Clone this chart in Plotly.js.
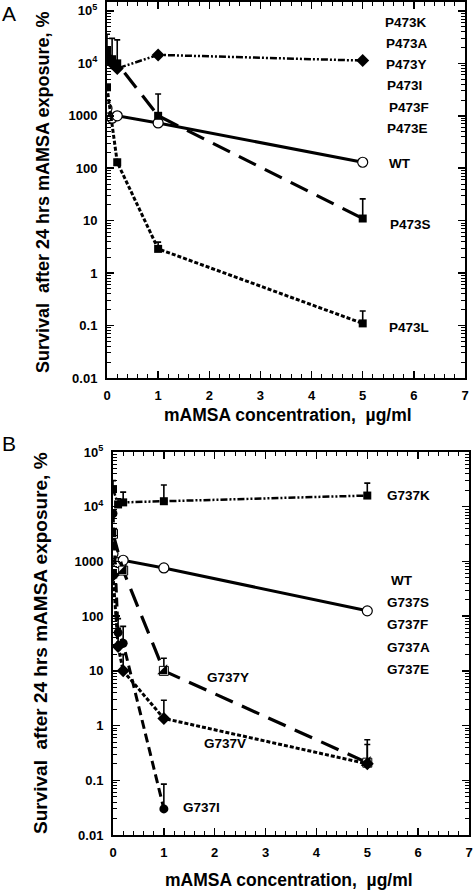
<!DOCTYPE html>
<html>
<head>
<meta charset="utf-8">
<script src="https://cdn.plot.ly/plotly-3.0.1.min.js"></script>
<style>html,body{margin:0;padding:0;background:#fff}#chart{width:475px;height:890px}</style>
</head>
<body>
<div id="chart"></div>
<script>
// ---------- DATA: panel A (P473 mutants) ----------
const xA_K = [0, 0.1, 0.2, 1, 5];
const yA_K = [13000, 10000, 8000, 14500, 11300];

const xA_S = [0, 0.1, 0.2, 1, 5];
const yA_S = [18000, 12000, 10000, 1000, 11];
const yA_S_hi = [36000, 30000, 28000, 2600, 26];

const xA_L = [0, 0.2, 1, 5];
const yA_L = [3500, 130, 2.9, 0.11];
const yA_L_hi = [3500, 130, 3.9, 0.19];

const xA_WT = [0, 0.1, 0.2, 1, 5];
const yA_WT = [1400, 900, 1000, 730, 130];

const labelsA = ['P473K', 'P473A', 'P473Y', 'P473I', 'P473F', 'P473E', 'WT', 'P473S', 'P473L'];

// ---------- DATA: panel B (G737 mutants) ----------
const xB_K = [0, 0.1, 0.2, 1, 5];
const yB_K = [21000, 11000, 12000, 12600, 16000];
const yB_K_hi = [30000, 14000, 18500, 25000, 27000];

const xB_WT = [0, 0.1, 0.2, 1, 5];
const yB_WT = [1400, 950, 1050, 760, 125];

const xB_Y = [0, 0.2, 1, 5];
const yB_Y = [3200, 680, 10, 0.21];
const yB_Y_hi = [3200, 680, 17, 0.45];

const xB_V = [0, 0.1, 0.2, 1, 5];
const yB_V = [560, 28, 10, 1.35, 0.2];
const yB_V_hi = [560, 60, 20, 2.9, 0.55];

const xB_I = [0, 0.1, 0.2, 1];
const yB_I = [7500, 50, 32, 0.03];
const yB_I_hi = [7500, 90, 65, 0.085];

const labelsB = ['G737K', 'WT', 'G737S', 'G737F', 'G737A', 'G737E', 'G737Y', 'G737V', 'G737I'];

const yTickVals = [0.01, 0.1, 1, 10, 100, 1000, 10000, 100000];
const yTickText = ['0.01', '0.1', '1', '10', '100', '1000', '10<sup>4</sup>', '10<sup>5</sup>'];
const xTickVals = [0, 1, 2, 3, 4, 5, 6, 7];
const xTitle = 'mAMSA concentration,  µg/ml';
const yTitle = 'Survival  after 24 hrs mAMSA exposure, %';

// ---------- helpers ----------
const W = 475, H = 890;
const px = v => v / W;
const py = v => 1 - v / H;
const FONT = 'Liberation Sans, Arial, Helvetica, sans-serif';
const upErr = (y, hi) => ({type: 'data', symmetric: false, array: hi.map((h, i) => Math.max(h - y[i], 0)), arrayminus: y.map(() => 0), color: '#000', thickness: 1.6, width: 3});

const minorLog = [];
for (let d = -2; d < 5; d++) for (let k = 2; k <= 9; k++) minorLog.push(k * Math.pow(10, d));

function line(x, y, xa, ya, dash, width, marker, err) {
  const t = {x: x, y: y, xaxis: xa, yaxis: ya, mode: 'lines+markers', type: 'scatter',
    line: {color: '#000', width: width, dash: dash}, marker: marker, showlegend: false, hoverinfo: 'skip'};
  if (err) t.error_y = err;
  return t;
}

const sq = {symbol: 'square', size: 8, color: '#000'};
const dia = {symbol: 'diamond', size: 10, color: '#000'};
const circOpen = {symbol: 'circle', size: 10, color: '#fff', line: {color: '#000', width: 1.2}};
const circFill = {symbol: 'circle', size: 9, color: '#000'};
const halfSq = {symbol: 'square', size: 9, color: '#fff', line: {color: '#000', width: 1}};

const DDOT = '7px,2px,2px,2px,2px,2px';
const LONG = '19px,10px';
const SHORT = '4px,2px';
const MED = '9px,5px';

const traces = [
  // Panel A
  line(xA_K, yA_K, 'x', 'y', DDOT, 2.5, dia),
  line(xA_WT, yA_WT, 'x', 'y', 'solid', 3, circOpen),
  line(xA_S, yA_S, 'x', 'y', LONG, 3.2, sq, upErr(yA_S, yA_S_hi)),
  line(xA_L, yA_L, 'x', 'y', SHORT, 3, sq, upErr(yA_L, yA_L_hi)),
  // Panel B
  line(xB_K, yB_K, 'x2', 'y2', DDOT, 2.5, sq, upErr(yB_K, yB_K_hi)),
  line(xB_WT, yB_WT, 'x2', 'y2', 'solid', 3, circOpen),
  line(xB_Y, yB_Y, 'x2', 'y2', LONG, 3.2, halfSq, upErr(yB_Y, yB_Y_hi)),
  {x: xB_Y, y: yB_Y, xaxis: 'x2', yaxis: 'y2', mode: 'markers', type: 'scatter',
   marker: {symbol: 'triangle-se', size: 11, color: '#000'}, showlegend: false, hoverinfo: 'skip'},
  line(xB_V, yB_V, 'x2', 'y2', SHORT, 3, dia, upErr(yB_V, yB_V_hi)),
  line(xB_I, yB_I, 'x2', 'y2', MED, 3, circFill, upErr(yB_I, yB_I_hi))
];

const tickFont = {family: FONT, size: 13, color: '#000', weight: 'bold'};
function xAxis(domain, anchor) {
  return {domain: domain, anchor: anchor, range: [0, 7], tickmode: 'array', tickvals: xTickVals,
    ticks: 'inside', ticklen: 7, tickwidth: 1.5, tickcolor: '#000',
    showline: true, linewidth: 2, linecolor: '#000', mirror: 'allticks', showgrid: false, zeroline: false,
    minor: {ticks: 'inside', ticklen: 4, tickwidth: 1, tickcolor: '#000', dtick: 0.2, showgrid: false},
    tickfont: tickFont, ticklabelstandoff: 4};
}
function yAxis(domain, anchor, range) {
  return {domain: domain, anchor: anchor, type: 'log', range: range, tickmode: 'array', tickvals: yTickVals, ticktext: yTickText,
    ticks: 'inside', ticklen: 7, tickwidth: 1.5, tickcolor: '#000',
    showline: true, linewidth: 2, linecolor: '#000', mirror: 'allticks', showgrid: false, zeroline: false,
    minor: {ticks: 'inside', ticklen: 4, tickwidth: 1, tickcolor: '#000', tickmode: 'array', tickvals: minorLog, showgrid: false},
    tickfont: tickFont, ticklabelstandoff: 5};
}
// decorative mirrored axes (right / top) so minor ticks appear on all four sides
function yRight(over, anchor, range) {
  return {overlaying: over, anchor: anchor, side: 'right', type: 'log', range: range, tickmode: 'array', tickvals: yTickVals,
    ticks: 'inside', ticklen: 7, tickwidth: 1.5, tickcolor: '#000', showticklabels: false, showgrid: false, zeroline: false, showline: false,
    minor: {ticks: 'inside', ticklen: 4, tickwidth: 1, tickcolor: '#000', tickmode: 'array', tickvals: minorLog, showgrid: false}};
}
function xTop(over, anchor) {
  return {overlaying: over, anchor: anchor, side: 'top', range: [0, 7], tickmode: 'array', tickvals: xTickVals,
    ticks: 'inside', ticklen: 7, tickwidth: 1.5, tickcolor: '#000', showticklabels: false, showgrid: false, zeroline: false, showline: false,
    minor: {ticks: 'inside', ticklen: 4, tickwidth: 1, tickcolor: '#000', dtick: 0.2, showgrid: false}};
}

const ann = (text, x, y, size, weight) => ({text: text, xref: 'paper', yref: 'paper', x: px(x), y: py(y),
  xanchor: 'left', yanchor: 'middle', showarrow: false,
  font: {family: FONT, size: size, color: '#000', weight: weight}});

const labPosA = [[383, 23], [384, 43], [384, 64], [385, 85], [387, 107], [385, 128], [387, 164], [388, 224], [387, 327]];
const labPosB = [[385, 496], [389, 580], [385, 602], [385, 624], [385, 647], [385, 669], [205, 677], [202, 743], [181, 807]];

const annotations = [];
labelsA.forEach((t, i) => annotations.push(ann(t, labPosA[i][0], labPosA[i][1], 13.5, 'bold')));
labelsB.forEach((t, i) => annotations.push(ann(t, labPosB[i][0], labPosB[i][1], 13.5, 'bold')));
annotations.push(ann('A', 0, 14, 21, 'normal'));
annotations.push(ann('B', 0, 443, 21, 'normal'));
annotations.push({text: xTitle, xref: 'paper', yref: 'paper', x: px(288), y: py(415), xanchor: 'center', yanchor: 'middle', showarrow: false, font: {family: FONT, size: 17.5, color: '#000', weight: 'bold'}});
annotations.push({text: xTitle, xref: 'paper', yref: 'paper', x: px(289), y: py(880), xanchor: 'center', yanchor: 'middle', showarrow: false, font: {family: FONT, size: 17.5, color: '#000', weight: 'bold'}});
annotations.push({text: yTitle, xref: 'paper', yref: 'paper', x: px(43), y: py(193), xanchor: 'center', yanchor: 'middle', textangle: -90, showarrow: false, font: {family: FONT, size: 18, color: '#000', weight: 'bold'}});
annotations.push({text: yTitle, xref: 'paper', yref: 'paper', x: px(40), y: py(643), xanchor: 'center', yanchor: 'middle', textangle: -90, showarrow: false, font: {family: FONT, size: 19, color: '#000', weight: 'bold'}});

const layout = {
  width: W, height: H, margin: {l: 0, r: 0, t: 0, b: 0}, paper_bgcolor: '#fff', plot_bgcolor: '#fff',
  showlegend: false,
  xaxis: xAxis([px(107), px(465)], 'y'),
  yaxis: yAxis([py(378), py(2)], 'x', [-2, 5.17]),
  xaxis2: xAxis([px(113), px(469)], 'y2'),
  yaxis2: yAxis([py(835), py(452)], 'x2', [-2, 5]),
  yaxis3: yRight('y', 'x', [-2, 5.17]),
  xaxis3: xTop('x', 'y'),
  yaxis4: yRight('y2', 'x2', [-2, 5]),
  xaxis4: xTop('x2', 'y2'),
  annotations: annotations
};

Plotly.newPlot('chart', traces, layout, {staticPlot: true, displayModeBar: false});
</script>
</body>
</html>
